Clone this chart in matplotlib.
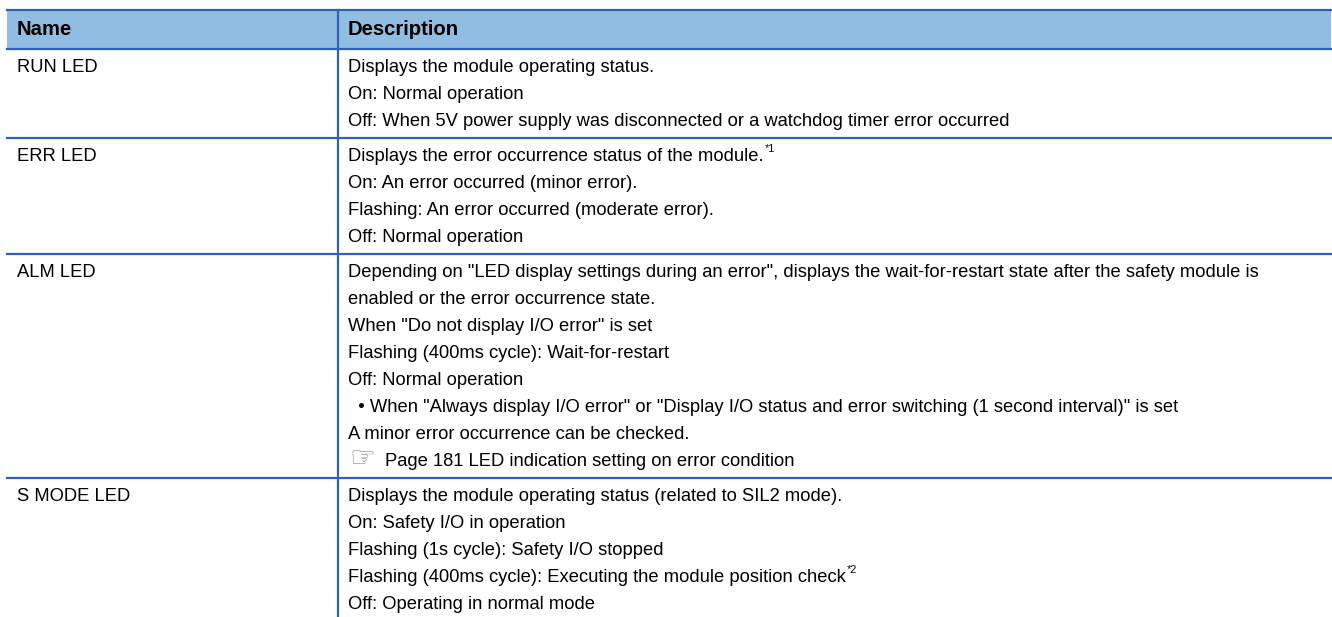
import matplotlib
matplotlib.use('Agg')
import matplotlib.pyplot as plt
from matplotlib.patches import Rectangle

plt.rcParams['font.family'] = ['Liberation Sans', 'DejaVu Sans']

# table content
headers = ["Name", "Description"]
names = ["RUN LED", "ERR LED", "ALM LED", "S MODE LED"]
descriptions = [
    ["Displays the module operating status.",
     "On: Normal operation",
     "Off: When 5V power supply was disconnected or a watchdog timer error occurred"],
    ["Displays the error occurrence status of the module.",
     "On: An error occurred (minor error).",
     "Flashing: An error occurred (moderate error).",
     "Off: Normal operation"],
    ["Depending on \"LED display settings during an error\", displays the wait-for-restart state after the safety module is",
     "enabled or the error occurrence state.",
     "When \"Do not display I/O error\" is set",
     "Flashing (400ms cycle): Wait-for-restart",
     "Off: Normal operation",
     "  \u2022 When \"Always display I/O error\" or \"Display I/O status and error switching (1 second interval)\" is set",
     "A minor error occurrence can be checked.",
     "\u261e Page 181 LED indication setting on error condition"],
    ["Displays the module operating status (related to SIL2 mode).",
     "On: Safety I/O in operation",
     "Flashing (1s cycle): Safety I/O stopped",
     "Flashing (400ms cycle): Executing the module position check",
     "Off: Operating in normal mode"],
]
# footnote marks: (row, line) -> mark
notes = {(1, 0): "*1", (3, 3): "*2"}

W, H = 1332, 617
LINE = 27
PAD = 8
FS = 13.2
HFS = 14.6
blue = '#2F62B4'
head_fill = '#92BDE3'

fig = plt.figure(figsize=(W / 100, H / 100), dpi=100)
ax = fig.add_axes([0, 0, 1, 1])
ax.set_xlim(0, W)
ax.set_ylim(H, 0)
ax.axis('off')

x0, x1, xdiv = 7, 1331, 338
top, head_bot = 10, 49

ax.add_patch(Rectangle((x0, top), x1 - x0, head_bot - top, facecolor=head_fill, edgecolor='none'))
ax.plot([x0, x1], [top, top], color=blue, lw=1.6)
ax.plot([x0, x1], [head_bot, head_bot], color=blue, lw=1.6)
ax.text(17, 35, headers[0], fontsize=HFS, fontweight='bold', va='baseline')
ax.text(348, 35, headers[1], fontsize=HFS, fontweight='bold', va='baseline')

renderer = fig.canvas.get_renderer()
y = head_bot
for i, (nm, lines) in enumerate(zip(names, descriptions)):
    ybase = y + 23
    ax.text(17, ybase, nm, fontsize=FS, va='baseline')
    for j, ln in enumerate(lines):
        yy = ybase + j * LINE
        if ln.startswith("\u261e"):
            ax.text(350, yy + 1, "\u261e", fontsize=21, va='baseline', color='#8a8a8a',
                    family=['DejaVu Sans'])
            t = ax.text(385, yy, ln[2:], fontsize=FS, va='baseline')
        else:
            t = ax.text(348, yy, ln, fontsize=FS, va='baseline')
        if (i, j) in notes:
            bb = t.get_window_extent(renderer)
            xs = ax.transData.inverted().transform((bb.x1, 0))[0]
            ax.text(xs + 1, yy - 9, notes[(i, j)], fontsize=FS * 0.6, va='baseline')
    y = y + len(lines) * LINE + PAD
    if i < len(names) - 1:
        ax.plot([x0, x1], [y, y], color=blue, lw=1.6)

ax.plot([xdiv, xdiv], [top, H], color=blue, lw=1.6)

fig.savefig('out.png', dpi=100)
